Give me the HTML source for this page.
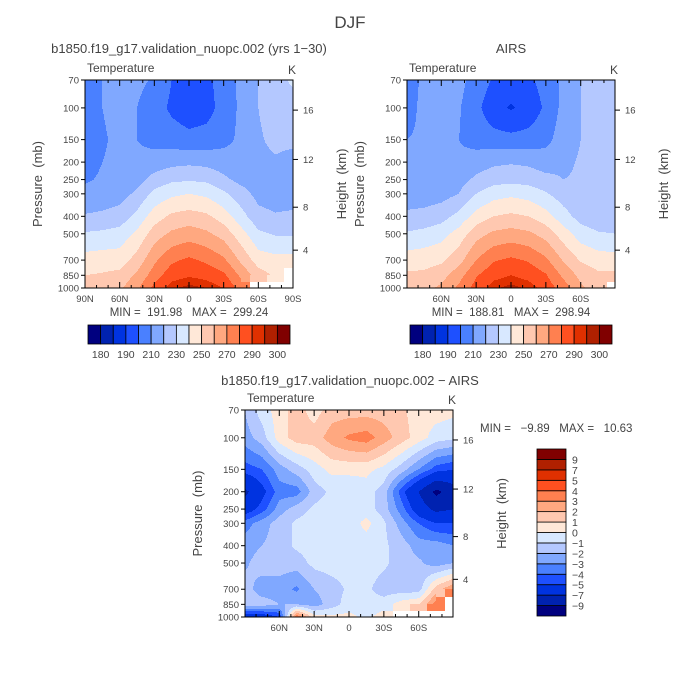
<!DOCTYPE html>
<html><head><meta charset="utf-8"><style>
html,body{margin:0;padding:0;background:#fff;}
svg{display:block;font-family:"Liberation Sans",sans-serif;}
text{fill:#444;white-space:pre;}
</style></head><body>
<svg id="root" width="700" height="700" viewBox="0 0 700 700" xmlns="http://www.w3.org/2000/svg" xml:space="preserve">
<rect width="700" height="700" fill="#fff"/>
<text x="350" y="28" font-size="17" text-anchor="middle">DJF</text>
<text x="189" y="53" font-size="13" text-anchor="middle">b1850.f19_g17.validation_nuopc.002 (yrs 1−30)</text>
<text x="511" y="53" font-size="13" text-anchor="middle">AIRS</text>
<text x="350" y="385" font-size="13" text-anchor="middle">b1850.f19_g17.validation_nuopc.002 − AIRS</text>
<g id="panels"></g>
</svg>
<script>
const lats = [90,75,60,45,30,15,0,-15,-30,-45,-60,-75,-90];
const pressures = [70,100,150,200,250,300,400,500,700,850,1000];
const pTicks = [70,100,150,200,250,300,400,500,700,850,1000];
const hTicks = [4,8,12,16];
const N = NaN;
const modelT = [
[205,210,214,212,209,200,195,197,205,212,220,226,232],
[205,210,213,210,205,198,194,196,204,212,220,224,225],
[205,209,212,210,207,205,203,204,207,212,219,222,222],
[207,210,212,212,214,217,218,217,215,214,218,219,217],
[209,211,212,216,224,228,229,228,222,217,216,216,215],
[212,214,216,222,233,238,240,238,232,224,217,215,215],
[221,222,224,233,245,252,254,252,245,234,223,221,222],
[231,232,234,242,255,262,265,262,256,244,232,229,229],
[244,245,245,254,268,278,282,278,272,258,245,243,243],
[250,251,253,262,275,286,289,287,282,268,255,248,N],
[253,255,258,268,283,294,297,295,290,275,N,N,N]];
const airsT = [
[205,212,214,213,206,199,196,198,204,212,220,224,230],
[207,212,213,211,203,193,189,193,202,213,220,223,224],
[210,211,212,210,206,204,203,204,207,215,220,222,222],
[211,211,211,212,215,218,219,218,215,218,221,222,222],
[213,213,213,216,222,226,227,226,223,220,221,221,221],
[215,215,216,220,230,236,238,236,231,225,222,221,221],
[222,223,226,233,244,250,252,250,244,234,226,223,223],
[231,233,236,244,256,262,264,262,256,245,235,231,230],
[245,246,248,256,270,279,282,279,272,259,249,245,244],
[252,252,256,266,279,287,290,287,281,268,257,252,252],
[254,257,262,272,284,294,297,294,286,275,262,255,N]];
const diffT = [
[-2,-0.5,0.5,1.5,0.5,1.5,1.5,1.5,1.5,1.2,0.5,0.5,0.3],
[-2.5,-1.5,0.5,1.5,1.5,2.5,3.2,3.5,2.5,1.5,0.5,-0.5,-0.8],
[-4.5,-4,-2.5,-1.5,-0.5,0.3,0.3,0.3,-0.3,-1.5,-3,-4.5,-5],
[-7.5,-5.5,-3.5,-3.5,-1.5,-0.8,-0.8,-0.5,-1.5,-4.5,-7,-9.5,-8],
[-6,-4.5,-2.5,-1.5,-0.8,-0.5,-0.5,-0.5,-1.5,-3.5,-6,-7.5,-7],
[-3.5,-2.5,-1.5,-0.8,-0.5,-0.5,-0.5,0.3,-0.8,-2.5,-4,-5,-5],
[-2.5,-2,-1.5,-0.8,-0.5,-0.5,-0.5,-0.5,-0.8,-1.5,-2.5,-2.5,-3],
[-2.2,-1.5,-1.5,-1.5,-0.7,-0.5,-0.5,-0.5,-0.8,-1.5,-1.8,-2.5,-2],
[-1.5,-2.5,-2.5,-3.2,-2,-1.5,-0.8,-0.8,-1.5,-1.5,-1.5,1.5,3],
[-1.5,-1.5,-2,-2,-2.5,-1.5,-0.5,-0.5,-0.5,0.5,1,3.5,N],
[-6,-6,-5,4,0.5,0.3,0.3,-0.3,0.5,N,N,N,N]];
const tLevels = [180,185,190,200,210,220,230,240,250,260,270,280,290,295,300];
const tLabels = ["180","190","210","230","250","270","290","300"];
const dLevels = [-9,-7,-5,-4,-3,-2,-1,0,1,2,3,4,5,7,9];
const dLabels = ["−9","−7","−5","−4","−3","−2","−1","0","1","2","3","4","5","7","9"];
const colors = ["#00007f","#0022b0","#0033e0","#1e50ff","#4a80ff","#80a8ff","#b4c8ff","#d8e8ff","#ffe8d8","#ffc8b0","#ffa880","#ff8050","#ff5020","#e03000","#b02000","#800000"];

const NS="http://www.w3.org/2000/svg";
const root=document.getElementById('panels');
function mk(tag,attrs,parent){const e=document.createElementNS(NS,tag);for(const k in attrs)e.setAttribute(k,attrs[k]);(parent||root).appendChild(e);return e;}
const LOGSPAN=Math.log10(1000/70);
function pToY(p,y0,h){return y0+h*Math.log10(p/70)/LOGSPAN;}
function zToP(z){z*=1000;return z<11000?1013.25*Math.pow(1-2.25577e-5*z,5.25588):226.32*Math.exp(-(z-11000)/6341.6);}
const logP=pressures.map(p=>Math.log(p));
function sample(data,lat,p){
  const lp=Math.log(p);let i=0;while(i<pressures.length-2&&lp>logP[i+1])i++;
  let fi=(lp-logP[i])/(logP[i+1]-logP[i]);fi=Math.max(0,Math.min(1,fi));
  let fj=(lats[0]-lat)/(lats[0]-lats[1]);let j=Math.max(0,Math.min(lats.length-2,Math.floor(fj)));let tj=Math.max(0,Math.min(1,fj-j));
  const ni=fi<0.5?i:i+1,nj=tj<0.5?j:j+1;const nv=data[ni][nj];
  if(isNaN(nv))return NaN;
  const a=data[i][j],b=data[i][j+1],c=data[i+1][j],d=data[i+1][j+1];
  if(isNaN(a)||isNaN(b)||isNaN(c)||isNaN(d))return nv;
  return (a*(1-tj)+b*tj)*(1-fi)+(c*(1-tj)+d*tj)*fi;
}
function colorIdx(v,levels){let k=0;while(k<levels.length&&v>=levels[k])k++;return k;}

function panel(name,x0,y0,w,h,latL,latR,data,levels,xlabs){
  const g=mk('g',{});
  
  
  const fill=mk('g',{'shape-rendering':'crispEdges'},g);
  
  
  for(let r=0;r<h;r++){
    const p=70*Math.pow(10,(r+0.5)/h*LOGSPAN);
    let start=0,cur=null;
    for(let c=0;c<=w;c++){
      let col=null;
      if(c<w){const lat=latL-(c+0.5)/w*(latL-latR);const v=sample(data,lat,p);col=isNaN(v)?'#ffffff':colors[colorIdx(v,levels)];}
      if(col!==cur){
        if(cur!==null){const rc=mk('rect',{x:x0+start,y:y0+r,width:c-start,height:1,fill:cur},fill);
          
          }
        cur=col;start=c;}
    }
  }
  const fr=mk('rect',{x:x0,y:y0,width:w,height:h,fill:'none',stroke:'#000','stroke-width':1},g);
  
  
  const ax=mk('g',{stroke:'#000','stroke-width':1},g);
  
  
  const latToX=lat=>x0+(latL-lat)/(latL-latR)*w;
  for(let lat=90;lat>=-90;lat-=10){
    if(lat>latL+1e-6||lat<latR-1e-6)continue;
    const x=latToX(lat);const L=(lat%30===0)?6:3;
    mk('line',{x1:x,y1:y0,x2:x,y2:y0+L},ax);mk('line',{x1:x,y1:y0+h,x2:x,y2:y0+h-L},ax);
  }
  xlabs.forEach(([lat,s])=>{const t=mk('text',{x:latToX(lat),y:y0+h+14,'font-size':9.5,'text-anchor':'middle'},g);t.textContent=s;
    
    });
  pTicks.forEach(p=>{const y=pToY(p,y0,h);mk('line',{x1:x0-4,y1:y,x2:x0,y2:y},ax);
    const t=mk('text',{x:x0-6,y:y+3.5,'font-size':9.5,'text-anchor':'end'},g);t.textContent=p;
    
    });
  hTicks.forEach(z=>{const y=pToY(zToP(z),y0,h);mk('line',{x1:x0+w,y1:y,x2:x0+w+5,y2:y},ax);
    const t=mk('text',{x:x0+w+10,y:y+3.5,'font-size':9.5},g);t.textContent=z;
    
    });
  let t=mk('text',{x:x0+2,y:y0-8,'font-size':12},g);t.textContent='Temperature';
  
  
  t=mk('text',{x:x0+w-5,y:y0-6,'font-size':12},g);t.textContent='K';
  
  
  t=mk('text',{x:0,y:0,'font-size':13,'text-anchor':'middle',transform:`translate(${x0-43},${y0+h/2}) rotate(-90)`},g);t.textContent='Pressure  (mb)';
  
  
  t=mk('text',{x:0,y:0,'font-size':13,'text-anchor':'middle',transform:`translate(${x0+w+53},${y0+h/2}) rotate(-90)`},g);t.textContent='Height  (km)';
  
  
}
function hbar(name,x0,y0,w,h){
  const g=mk('g',{});
  
  
  const bw=w/colors.length;
  colors.forEach((c,i)=>{const r=mk('rect',{x:x0+i*bw,y:y0,width:bw,height:h,fill:c,stroke:'#000','stroke-width':0.8},g);
    
    });
  tLabels.forEach((s,k)=>{const t=mk('text',{x:x0+(2*k+1)*bw,y:y0+h+14,'font-size':10.5,'text-anchor':'middle'},g);t.textContent=s;
    
    });
}
function txt(name,x,y,s,size,anchor){const t=mk('text',{x:x,y:y,'font-size':size,'text-anchor':anchor||'middle'});t.textContent=s;
  
  }

panel('model-panel',85,80,208,208,90,-90,modelT,tLevels,[[90,'90N'],[60,'60N'],[30,'30N'],[0,'0'],[-30,'30S'],[-60,'60S'],[-90,'90S']]);
txt('model-min-max',189,316,'MIN =  191.98   MAX =  299.24',11.5);
hbar('model-colorbar',88,325,202,19);
panel('obs-panel',407,80,208,208,89.5,-89.5,airsT,tLevels,[[60,'60N'],[30,'30N'],[0,'0'],[-30,'30S'],[-60,'60S']]);
txt('obs-min-max',511,316,'MIN =  188.81   MAX =  298.94',11.5);
hbar('obs-colorbar',410,325,202,19);
panel('diff-panel',245,410,208,207,89.5,-89.5,diffT,dLevels,[[60,'60N'],[30,'30N'],[0,'0'],[-30,'30S'],[-60,'60S']]);
txt('diff-min-max',480,432,'MIN =   −9.89   MAX =   10.63',11.5,'start');
(function(){
  const g=mk('g',{});
  
  
  const x0=537,y0=449,w=29,h=167,bh=h/colors.length;
  colors.forEach((c,i)=>{const r=mk('rect',{x:x0,y:y0+(colors.length-1-i)*bh,width:w,height:bh,fill:c,stroke:'#000','stroke-width':0.8},g);
    
    });
  dLabels.forEach((s,k)=>{const y=y0+(colors.length-1-k)*bh;const t=mk('text',{x:x0+w+6,y:y+4,'font-size':10.5},g);t.textContent=s;
    
    });
})();
</script>
</body></html>
